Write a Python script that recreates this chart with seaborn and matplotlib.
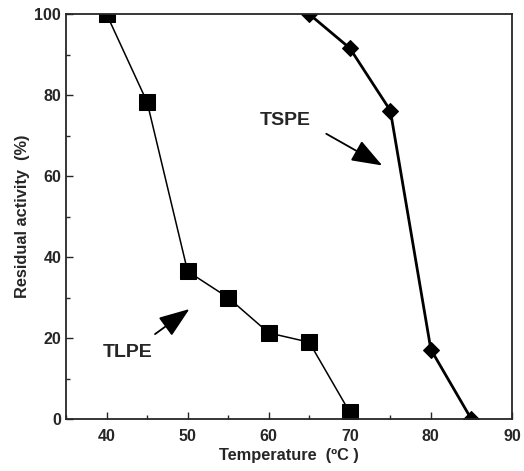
import matplotlib
matplotlib.use("Agg")
from matplotlib import pyplot as plt
from matplotlib.ticker import MultipleLocator
import seaborn as sns
import pandas as pd

# data
tlpe_temp = [40, 45, 50, 55, 60, 65, 70]
tlpe_activity = [100, 78.3, 36.5, 30, 21.3, 19, 1.7]
tspe_temp = [65, 70, 75, 80, 85]
tspe_activity = [100, 91.6, 76.2, 17.2, 0]

df_tlpe = pd.DataFrame({"Temperature": tlpe_temp, "Activity": tlpe_activity})
df_tspe = pd.DataFrame({"Temperature": tspe_temp, "Activity": tspe_activity})

sns.set_style("ticks")
plt.rcParams["font.family"] = ["Liberation Sans", "DejaVu Sans"]
plt.rcParams["font.weight"] = "bold"

fig = plt.figure(figsize=(5.24, 4.71), dpi=100)
ax = fig.add_axes([0.126, 0.110, 0.851, 0.860])

sns.lineplot(data=df_tlpe, x="Temperature", y="Activity", ax=ax,
             color="black", linewidth=1.1, marker="s", markersize=11,
             markeredgecolor="black", markerfacecolor="black")
sns.lineplot(data=df_tspe, x="Temperature", y="Activity", ax=ax,
             color="black", linewidth=2.0, marker="D", markersize=8,
             markeredgecolor="black", markerfacecolor="black")

ax.set_xlim(35, 90)
ax.set_ylim(0, 100)
ax.xaxis.set_major_locator(MultipleLocator(10))
ax.xaxis.set_minor_locator(MultipleLocator(5))
ax.yaxis.set_major_locator(MultipleLocator(20))
ax.yaxis.set_minor_locator(MultipleLocator(10))
ax.tick_params(which="both", direction="in", labelsize=11.5, width=1)
ax.tick_params(which="major", length=5)
ax.tick_params(which="minor", length=3)
ax.tick_params(axis="x", pad=7)
for s in ax.spines.values():
    s.set_linewidth(1.3)

ax.set_xlabel("Temperature  (\u00baC )", fontsize=11.8, fontweight="bold", labelpad=3)
ax.set_ylabel("Residual activity  (%)", fontsize=11.8, fontweight="bold", labelpad=3)

arrow = dict(arrowstyle="-|>,head_length=1.9,head_width=0.7", color="black", lw=1.3)
ax.annotate("", xy=(74.3, 62.3), xytext=(66.8, 70.8), arrowprops=arrow)
ax.annotate("", xy=(50.5, 27.6), xytext=(45.7, 20.6), arrowprops=arrow)
ax.text(62.0, 73.8, "TSPE", fontsize=14, fontweight="bold", ha="center", va="center")
ax.text(42.6, 16.5, "TLPE", fontsize=14, fontweight="bold", ha="center", va="center")

fig.savefig("out.png", dpi=100)
